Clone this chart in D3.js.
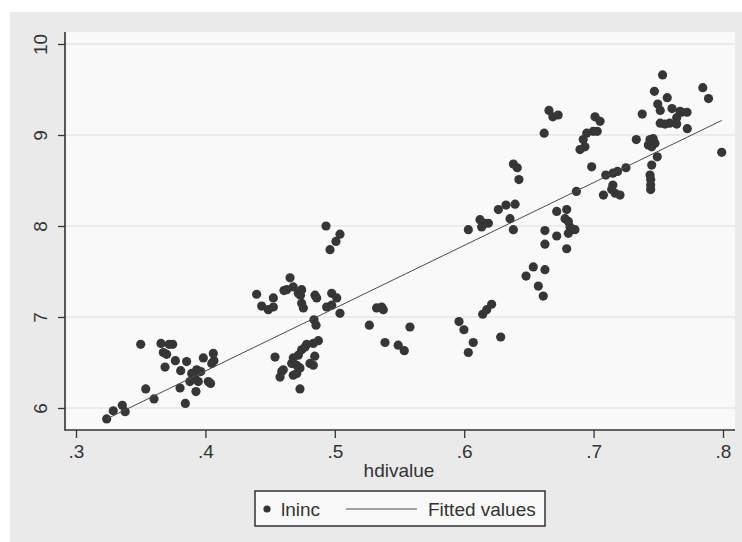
<!DOCTYPE html>
<html>
<head>
<meta charset="utf-8">
<script src="https://cdn.jsdelivr.net/npm/d3@7"></script>
<style>
  html, body { margin: 0; padding: 0; background: #fff; }
  svg { display: block; font-family: "Liberation Sans", Arial, sans-serif; }
</style>
</head>
<body>
<div id="chart"></div>
<script>
// lninc against hdivalue
const hdivalue = [
  .3237, .3288, .3358, .338, .3539, .3603, .350, .3657, .372, .3747,
  .3675, .370, .3688, .3768, .3855, .3809, .3804, .3845, .3927, .3984,
  .4061, .4066, .4049, .3894, .3933, .3964, .392, .388, .3945, .4022, .404,
  .4396, .4435, .4486, .4525, .4525, .4654, .4628, .4679, .4718, .4744,
  .4744, .4757, .4607, .4735, .4847, .486, .4976, .5015, .4976, .4937,
  .504, .4839, .4855, .5267, .5323, .5362, .5375, .5581, .5388, .549,
  .5537, .4538, .4873, .4783, .4744, .4718, .4679, .4667, .4706, .4808,
  .4834, .459, .4577, .4679, .4706, .4731, .4932, .504, .5009, .4963,
  .4845, .477, .4731, .4834, .4602,
  .596, .5998, .607, .6032, .6282, .6212, .6174, .6143, .6032, .6122,
  .616, .6135, .6187, .6264, .6323, .6393, .6354, .638, .638, .641,
  .6423, .6478, .6534, .6624, .6573, .6611, .6624, .6715, .6624, .6792,
  .6715, .6792, .6779, .6805, .6818, .6831, .6805, .6856, .6867, .6655,
  .6726, .6685, .6618,
  .6985, .7011, .705, .6998, .6947, .692, .6933, .6895, .7028, .7094,
  .7149, .7185, .725, .7076, .7149, .7167, .7204, .714, .733, .7376,
  .747, .7533, .7569, .7496, .7515, .7606, .768, .7642, .7588, .7552,
  .7515, .7642, .7724, .7844, .7888, .799, .7436, .7461, .7474, .7423,
  .7449, .7492, .7449, .7436, .7441, .7441, .7441, .7722, .7668
];
const lninc = [
  5.88, 5.97, 6.03, 5.96, 6.21, 6.10, 6.70, 6.71, 6.70, 6.70,
  6.61, 6.59, 6.45, 6.52, 6.51, 6.41, 6.22, 6.05, 6.18, 6.55,
  6.60, 6.52, 6.49, 6.38, 6.42, 6.40, 6.33, 6.29, 6.29, 6.29, 6.27,
  7.25, 7.12, 7.08, 7.21, 7.11, 7.43, 7.30, 7.33, 7.26, 7.30,
  7.15, 7.10, 7.29, 7.24, 7.24, 7.21, 7.26, 7.21, 7.13, 7.11,
  7.04, 6.97, 6.91, 6.91, 7.10, 7.11, 7.08, 6.89, 6.72, 6.69,
  6.63, 6.56, 6.74, 6.70, 6.64, 6.58, 6.55, 6.49, 6.47, 6.49,
  6.47, 6.40, 6.34, 6.36, 6.38, 6.21, 8.00, 7.91, 7.83, 7.74,
  6.57, 6.67, 6.44, 6.71, 6.42,
  6.95, 6.86, 6.72, 6.61, 6.78, 7.14, 7.08, 7.03, 7.96, 8.07,
  8.03, 7.99, 8.03, 8.18, 8.23, 8.24, 8.08, 7.96, 8.68, 8.64,
  8.51, 7.45, 7.55, 7.52, 7.34, 7.23, 7.95, 7.89, 7.80, 7.75,
  8.16, 8.18, 8.08, 8.05, 7.99, 7.96, 7.92, 7.96, 8.38, 9.27,
  9.22, 9.20, 9.02,
  8.65, 9.20, 9.15, 9.04, 9.02, 8.95, 8.87, 8.84, 9.04, 8.56,
  8.58, 8.60, 8.64, 8.34, 8.45, 8.36, 8.34, 8.40, 8.95, 9.23,
  9.48, 9.66, 9.41, 9.34, 9.27, 9.29, 9.25, 9.19, 9.13, 9.12,
  9.13, 9.12, 9.07, 9.52, 9.40, 8.81, 8.95, 8.96, 8.91, 8.89,
  8.87, 8.76, 8.67, 8.56, 8.51, 8.45, 8.40, 9.25, 9.26
];
// fitted values at the ends of the data range
const fitX = [.3237, .799];
const fitY = [5.88, 9.16];

const xTicks = [.3, .4, .5, .6, .7, .8];
const xTickLabels = [".3", ".4", ".5", ".6", ".7", ".8"];
const yTicks = [6, 7, 8, 9, 10];
const yTickLabels = ["6", "7", "8", "9", "10"];
const legendLabels = ["lninc", "Fitted values"];

const width = 742, height = 542;
const plot = { left: 65, top: 32, right: 735, bottom: 430 };
const ink = "#333";

const svg = d3.select("#chart").append("svg")
  .attr("width", width)
  .attr("height", height);

/* outer grey graph region and the lighter plot region */
svg.append("rect")
  .attr("x", 10).attr("y", 12)
  .attr("width", width - 10).attr("height", height - 12)
  .attr("fill", "#eaeaea");
svg.append("rect")
  .attr("x", plot.left).attr("y", plot.top)
  .attr("width", plot.right - plot.left).attr("height", plot.bottom - plot.top)
  .attr("fill", "#f9f9f9");

const x = d3.scaleLinear().domain([.3, .8]).range([76, 723]);
const y = d3.scaleLinear().domain([6, 10]).range([408, 44]);

/* horizontal grid lines */
svg.append("g")
  .selectAll("line")
  .data(yTicks)
  .join("line")
  .attr("x1", plot.left).attr("x2", plot.right)
  .attr("y1", (d) => y(d)).attr("y2", (d) => y(d))
  .attr("stroke", "#e6e6e6")
  .attr("stroke-width", 1.5);

/* axes */
svg.append("g")
  .attr("transform", `translate(${plot.left},0)`)
  .call(d3.axisLeft(y).tickValues(yTicks).tickFormat((d, i) => yTickLabels[i])
    .tickSize(7).tickSizeOuter(0).tickPadding(11))
  .call((g) => {
    g.select(".domain").remove();
    g.selectAll(".tick line").attr("stroke", ink).attr("stroke-width", 1.3);
    g.selectAll(".tick text")
      .attr("fill", ink)
      .style("font-size", "19px")
      .attr("x", 0).attr("dy", 0)
      .attr("text-anchor", "middle")
      .attr("transform", "translate(-18,0) rotate(-90)");
  });

svg.append("g")
  .attr("transform", `translate(0,${plot.bottom})`)
  .call(d3.axisBottom(x).tickValues(xTicks).tickFormat((d, i) => xTickLabels[i])
    .tickSize(8).tickSizeOuter(0).tickPadding(7))
  .call((g) => {
    g.select(".domain").remove();
    g.selectAll(".tick line").attr("stroke", ink).attr("stroke-width", 1.3);
    g.selectAll(".tick text").attr("fill", ink).style("font-size", "19px");
  });

svg.append("line")
  .attr("x1", plot.left).attr("x2", plot.left)
  .attr("y1", plot.top).attr("y2", plot.bottom + 0.75)
  .attr("stroke", ink).attr("stroke-width", 1.6);
svg.append("line")
  .attr("x1", plot.left).attr("x2", plot.right)
  .attr("y1", plot.bottom).attr("y2", plot.bottom)
  .attr("stroke", ink).attr("stroke-width", 1.6);

svg.append("text")
  .attr("x", 399).attr("y", 477)
  .attr("text-anchor", "middle")
  .attr("fill", ink)
  .style("font-size", "19px")
  .text("hdivalue");

/* scatter points */
svg.append("g")
  .selectAll("circle")
  .data(d3.zip(hdivalue, lninc))
  .join("circle")
  .attr("cx", (d) => x(d[0]))
  .attr("cy", (d) => y(d[1]))
  .attr("r", 4.6)
  .attr("fill", "#363636");

/* fitted line */
svg.append("path")
  .datum(d3.zip(fitX, fitY))
  .attr("d", d3.line().x((d) => x(d[0])).y((d) => y(d[1])))
  .attr("fill", "none")
  .attr("stroke", "#4a4a4a")
  .attr("stroke-width", 1);

/* legend */
const legend = svg.append("g");
legend.append("rect")
  .attr("x", 255).attr("y", 491)
  .attr("width", 290).attr("height", 35)
  .attr("fill", "#f9f9f9")
  .attr("stroke", ink)
  .attr("stroke-width", 1.5);
legend.append("circle")
  .attr("cx", 267).attr("cy", 509)
  .attr("r", 3.6)
  .attr("fill", "#363636");
legend.append("text")
  .attr("x", 281).attr("y", 516)
  .attr("fill", ink)
  .style("font-size", "19px")
  .text(legendLabels[0]);
legend.append("line")
  .attr("x1", 346).attr("x2", 417)
  .attr("y1", 509).attr("y2", 509)
  .attr("stroke", "#4a4a4a").attr("stroke-width", 1);
legend.append("text")
  .attr("x", 428).attr("y", 516)
  .attr("fill", ink)
  .style("font-size", "19px")
  .text(legendLabels[1]);
</script>
</body>
</html>
